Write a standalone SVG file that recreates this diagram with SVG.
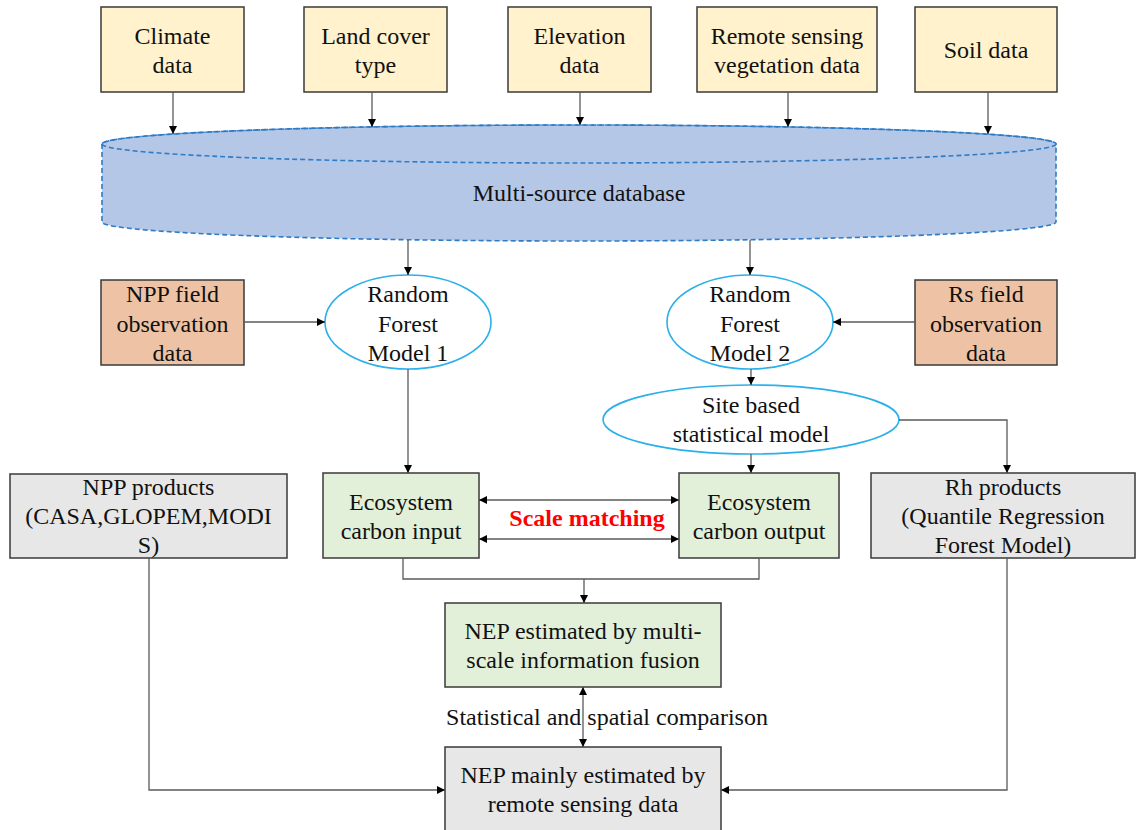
<svg xmlns="http://www.w3.org/2000/svg" width="1137" height="830" viewBox="0 0 1137 830">
<style>
text{font-family:"Liberation Serif","Times New Roman",serif;font-size:24px;fill:#111;text-anchor:middle}
.box{stroke:#3a3a3a;stroke-width:1.5}
.yel{fill:#FFF2CC}
.pch{fill:#EEC3A5}
.grn{fill:#E2F0D9}
.gry{fill:#E7E7E7}
.ell{fill:#fff;stroke:#2AB0EA;stroke-width:1.6}
.cn{fill:none;stroke:#5a5a5a;stroke-width:1.3}
.sm{font-weight:bold;fill:#FF0000}
</style>
<defs>
<marker id="ah" viewBox="0 0 10 10" refX="10" refY="5" markerWidth="9" markerHeight="8" markerUnits="userSpaceOnUse" orient="auto-start-reverse">
<path d="M0,0 L10,5 L0,10 z" fill="#000"/>
</marker>
</defs>

<g id="climate"><rect class="box yel" x="101" y="7" width="143" height="85"/><text x="172.5" y="44">Climate</text><text x="172.5" y="73">data</text></g>
<g id="landcover"><rect class="box yel" x="304" y="7" width="143" height="85"/><text x="375.5" y="44">Land cover</text><text x="375.5" y="73">type</text></g>
<g id="elevation"><rect class="box yel" x="508" y="7" width="143" height="85"/><text x="579.5" y="44">Elevation</text><text x="579.5" y="73">data</text></g>
<g id="remote"><rect class="box yel" x="697" y="7" width="180" height="85"/><text x="787" y="44">Remote sensing</text><text x="787" y="73">vegetation data</text></g>
<g id="soil"><rect class="box yel" x="915" y="7" width="142" height="85"/><text x="986" y="58">Soil data</text></g>

<g id="database">
<path d="M102,144 V222 A477,19 0 0 0 1056,222 V144 A477,19 0 0 0 102,144 Z" fill="#B4C7E7" stroke="#2E7CC8" stroke-width="1.6" stroke-dasharray="5,3"/>
<ellipse cx="579" cy="144" rx="477" ry="19" fill="none" stroke="#2E7CC8" stroke-width="1.6" stroke-dasharray="5,3"/>
<text x="579" y="201">Multi-source database</text>
</g>

<g id="nppfield"><rect class="box pch" x="101" y="280" width="143" height="85"/><text x="172.5" y="302">NPP field</text><text x="172.5" y="332">observation</text><text x="172.5" y="361">data</text></g>
<g id="rf1"><ellipse class="ell" cx="408" cy="322" rx="83" ry="47"/><text x="408" y="302">Random</text><text x="408" y="332">Forest</text><text x="408" y="361">Model 1</text></g>
<g id="rf2"><ellipse class="ell" cx="750" cy="322" rx="83" ry="47"/><text x="750" y="302">Random</text><text x="750" y="332">Forest</text><text x="750" y="361">Model 2</text></g>
<g id="rsfield"><rect class="box pch" x="915" y="280" width="142" height="85"/><text x="986" y="302">Rs field</text><text x="986" y="332">observation</text><text x="986" y="361">data</text></g>
<g id="site"><ellipse class="ell" cx="751" cy="419.5" rx="148" ry="34.5"/><text x="751" y="413">Site based</text><text x="751" y="442">statistical model</text></g>

<g id="nppproducts"><rect class="box gry" x="10" y="474" width="277" height="84"/><text x="148.5" y="495">NPP products</text><text x="148.5" y="524">(CASA,GLOPEM,MODI</text><text x="148.5" y="553">S)</text></g>
<g id="cin"><rect class="box grn" x="323" y="473" width="156" height="85"/><text x="401" y="510">Ecosystem</text><text x="401" y="539">carbon input</text></g>
<g id="cout"><rect class="box grn" x="679" y="473" width="160" height="85"/><text x="759" y="510">Ecosystem</text><text x="759" y="539">carbon output</text></g>
<g id="rhproducts"><rect class="box gry" x="871" y="473" width="264" height="85"/><text x="1003" y="495">Rh products</text><text x="1003" y="524">(Quantile Regression</text><text x="1003" y="553">Forest Model)</text></g>
<g id="scalelabel"><text class="sm" x="587" y="526">Scale matching</text></g>

<g id="nepfusion"><rect class="box grn" x="445" y="603" width="276" height="84"/><text x="583" y="639">NEP estimated by multi-</text><text x="583" y="668">scale information fusion</text></g>
<g id="complabel"><text x="607" y="725">Statistical and spatial comparison</text></g>
<g id="nepmain"><rect class="box gry" x="445" y="747" width="276" height="90"/><text x="583" y="783">NEP mainly estimated by</text><text x="583" y="812">remote sensing data</text></g>

<g id="connectors">
<path class="cn" d="M173,92 V134" marker-end="url(#ah)"/>
<path class="cn" d="M372,92 V127" marker-end="url(#ah)"/>
<path class="cn" d="M580,92 V125" marker-end="url(#ah)"/>
<path class="cn" d="M788,92 V127" marker-end="url(#ah)"/>
<path class="cn" d="M988,92 V134" marker-end="url(#ah)"/>
<path class="cn" d="M408,240 V275" marker-end="url(#ah)"/>
<path class="cn" d="M750,240 V275" marker-end="url(#ah)"/>
<path class="cn" d="M244,322 H325" marker-end="url(#ah)"/>
<path class="cn" d="M915,322 H833" marker-end="url(#ah)"/>
<path class="cn" d="M751,369 V385" marker-end="url(#ah)"/>
<path class="cn" d="M408,369 V473" marker-end="url(#ah)"/>
<path class="cn" d="M751,454 V473" marker-end="url(#ah)"/>
<path class="cn" d="M899,420 H1007 V473" marker-end="url(#ah)"/>
<path class="cn" d="M479,500 H679" marker-start="url(#ah)" marker-end="url(#ah)"/>
<path class="cn" d="M479,539 H679" marker-start="url(#ah)" marker-end="url(#ah)"/>
<path class="cn" d="M403,558 V579 H759 V558"/>
<path class="cn" d="M584,579 V603" marker-end="url(#ah)"/>
<path class="cn" d="M583,687 V747" marker-start="url(#ah)" marker-end="url(#ah)"/>
<path class="cn" d="M149,558 V790 H445" marker-end="url(#ah)"/>
<path class="cn" d="M1007,558 V790 H721" marker-end="url(#ah)"/>
</g>
</svg>
